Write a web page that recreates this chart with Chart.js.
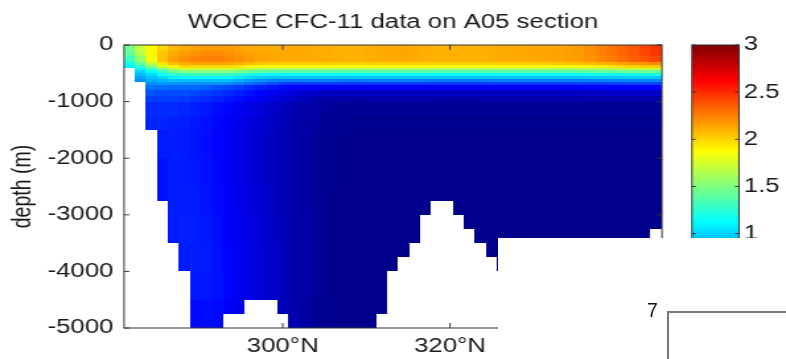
<!DOCTYPE html>
<html>
<head>
<meta charset="utf-8">
<script src="https://cdn.jsdelivr.net/npm/chart.js@4.4.1/dist/chart.umd.min.js"></script>
<style>
  html, body { margin: 0; padding: 0; background: #fff; overflow: hidden; width: 786px; height: 359px; }
  #wrap { position: absolute; left: 0; top: 0; width: 595px; height: 359px; transform: scaleX(1.32101); transform-origin: 0 0; }
  #mask { position: absolute; left: 498px; top: 238px; width: 288px; height: 121px; background: #fff; }
  #seven { position: absolute; left: 647px; top: 301px; font: 19.5px "Liberation Sans", Arial, sans-serif; line-height: 1; color: #111; }
  #box { position: absolute; left: 667px; top: 311px; width: 200px; height: 100px; border-left: 2px solid #777; border-top: 2px solid #777; }
</style>
</head>
<body>
<div id="wrap"><canvas id="c" width="595" height="359"></canvas></div>
<div id="mask"></div>
<div id="seven">7</div>
<div id="box"></div>
<script>
// ---------- data ----------
const chartTitle = 'WOCE CFC-11 data on A05 section';
const yAxisTitle = 'depth (m)';
const xTickValues = [300, 320];
const xTickSuffix = '°N';
const yTickValues = [0, -1000, -2000, -3000, -4000, -5000];
const cbTickValues = [0, 0.5, 1, 1.5, 2, 2.5, 3];

// section grid: column edges (x units) and depth layer edges (m)
const lonEdges = [281.03, 282.34, 283.65, 284.96, 286.27, 287.58, 288.89, 290.20, 291.51, 292.82,
  294.13, 295.44, 296.75, 298.06, 299.37, 300.68, 301.99, 303.30, 304.61, 305.92,
  307.23, 308.54, 309.85, 311.16, 312.47, 313.78, 315.09, 316.40, 317.71, 319.02,
  320.33, 321.64, 322.95, 324.26, 325.57, 326.88, 328.19, 329.50, 330.81, 332.12,
  333.43, 334.74, 336.05, 337.36, 338.67, 339.98, 341.29, 342.60, 343.91, 345.34];
const depthEdges = [0, 100, 200, 300, 350, 400, 450, 500, 550, 600, 650, 700, 800, 900, 1000,
  1250, 1500, 2000, 2500, 3000, 3500, 4000, 4500, 5000];

// sea-floor depth for each column (m)
const bottomDepth = [400, 650, 1500, 2750, 3500, 4000, 5000, 5000, 5000, 4750,
  4750, 4500, 4500, 4500, 4750, 5000, 5000, 5000, 5000, 5000,
  5000, 5000, 5000, 4750, 4000, 3750, 3500, 3000, 2750, 2750,
  3000, 3250, 3500, 3750, 4000, 4250, 4500, 4750, 5000, 5000,
  5000, 5000, 4750, 4500, 4250, 4000, 3750, 3500, 3250];

// CFC-11 (pmol/kg) per depth layer (rows) and column
const cfc11ByDepth = [
  [1.45,1.7,1.9,2.0,2.08,2.12,2.15,2.18,2.18,2.17, 2.15,2.13,2.12,2.12,2.12,2.12,2.12,2.11,2.11,2.1, 2.1,2.1,2.11,2.12,2.12,2.13,2.12,2.11,2.1,2.1, 2.1,2.1,2.1,2.11,2.12,2.12,2.12,2.13,2.13,2.14, 2.15,2.17,2.2,2.24,2.28,2.32,2.36,2.42,2.48],
  [1.4,1.65,1.9,2.05,2.12,2.17,2.2,2.22,2.22,2.2, 2.18,2.15,2.14,2.13,2.13,2.13,2.13,2.12,2.12,2.11, 2.11,2.11,2.12,2.13,2.13,2.14,2.13,2.12,2.11,2.11, 2.11,2.11,2.11,2.12,2.13,2.13,2.13,2.14,2.14,2.15, 2.16,2.18,2.21,2.25,2.29,2.33,2.37,2.42,2.47],
  [1.3,1.55,1.85,2.05,2.15,2.2,2.23,2.25,2.25,2.22, 2.2,2.17,2.14,2.13,2.12,2.12,2.12,2.12,2.11,2.11, 2.1,2.1,2.11,2.12,2.12,2.13,2.12,2.11,2.1,2.1, 2.1,2.1,2.1,2.11,2.12,2.12,2.12,2.13,2.13,2.14, 2.15,2.16,2.19,2.22,2.26,2.3,2.34,2.38,2.42],
  [1.2,1.4,1.7,1.95,2.08,2.12,2.15,2.15,2.15,2.15, 2.12,2.08,2.04,2.03,2.02,2.02,2.02,2.02,2.02,2.02, 2.01,2.01,2.02,2.02,2.02,2.03,2.02,2.02,2.01,2.01, 2.01,2.01,2.01,2.02,2.02,2.02,2.02,2.03,2.03,2.04, 2.05,2.06,2.08,2.1,2.12,2.15,2.18,2.2,2.22],
  [1.1,1.25,1.5,1.75,1.9,1.98,1.98,1.98,1.98,1.98, 1.95,1.9,1.88,1.88,1.88,1.88,1.88,1.88,1.88,1.88, 1.87,1.87,1.88,1.88,1.88,1.88,1.88,1.88,1.87,1.87, 1.87,1.87,1.87,1.88,1.88,1.88,1.88,1.88,1.88,1.88, 1.88,1.9,1.9,1.92,1.95,1.98,2.0,2.02,2.02],
  [null,1.12,1.3,1.5,1.65,1.75,1.75,1.75,1.75,1.75, 1.72,1.68,1.64,1.62,1.62,1.62,1.62,1.62,1.62,1.62, 1.61,1.61,1.62,1.62,1.62,1.62,1.62,1.62,1.61,1.61, 1.61,1.61,1.61,1.62,1.62,1.62,1.62,1.62,1.62,1.62, 1.62,1.62,1.64,1.65,1.66,1.68,1.7,1.7,1.7],
  [null,1.0,1.15,1.3,1.45,1.5,1.5,1.5,1.5,1.5, 1.48,1.42,1.4,1.38,1.38,1.38,1.38,1.38,1.38,1.38, 1.37,1.37,1.38,1.38,1.38,1.38,1.38,1.38,1.37,1.37, 1.37,1.37,1.37,1.38,1.38,1.38,1.38,1.38,1.38,1.38, 1.38,1.39,1.4,1.41,1.42,1.43,1.44,1.45,1.45],
  [null,0.92,1.02,1.15,1.25,1.3,1.3,1.3,1.3,1.3, 1.25,1.2,1.17,1.15,1.15,1.15,1.15,1.15,1.15,1.15, 1.14,1.14,1.15,1.15,1.15,1.15,1.15,1.15,1.14,1.14, 1.14,1.14,1.14,1.15,1.15,1.15,1.15,1.15,1.15,1.15, 1.15,1.16,1.16,1.17,1.18,1.18,1.19,1.2,1.2],
  [null,0.85,0.95,1.02,1.08,1.1,1.1,1.1,1.1,1.1, 1.05,1.0,0.97,0.95,0.95,0.95,0.95,0.95,0.95,0.95, 0.94,0.94,0.95,0.95,0.95,0.95,0.95,0.95,0.94,0.94, 0.94,0.94,0.94,0.95,0.95,0.95,0.95,0.95,0.95,0.95, 0.95,0.95,0.96,0.96,0.97,0.97,0.98,0.98,0.98],
  [null,0.8,0.88,0.92,0.95,0.95,0.95,0.95,0.95,0.95, 0.9,0.85,0.8,0.77,0.75,0.75,0.75,0.75,0.75,0.75, 0.74,0.74,0.75,0.75,0.75,0.75,0.75,0.75,0.74,0.74, 0.74,0.74,0.74,0.75,0.75,0.75,0.75,0.75,0.75,0.75, 0.75,0.75,0.76,0.76,0.77,0.77,0.78,0.78,0.78],
  [null,null,0.8,0.82,0.82,0.8,0.8,0.8,0.8,0.8, 0.75,0.7,0.65,0.6,0.56,0.55,0.55,0.55,0.55,0.55, 0.54,0.54,0.55,0.55,0.55,0.55,0.55,0.55,0.54,0.54, 0.54,0.54,0.54,0.55,0.55,0.55,0.55,0.55,0.55,0.55, 0.55,0.55,0.56,0.56,0.57,0.57,0.58,0.58,0.58],
  [null,null,0.7,0.7,0.68,0.68,0.68,0.66,0.62,0.58, 0.55,0.5,0.46,0.43,0.4,0.37,0.35,0.35,0.35,0.35, 0.34,0.34,0.35,0.35,0.35,0.35,0.35,0.35,0.34,0.34, 0.34,0.34,0.34,0.35,0.35,0.35,0.35,0.35,0.35,0.35, 0.36,0.36,0.37,0.38,0.38,0.38,0.38,0.38,0.38],
  [null,null,0.62,0.6,0.6,0.6,0.58,0.56,0.53,0.49, 0.46,0.42,0.38,0.34,0.3,0.26,0.23,0.21,0.2,0.2, 0.19,0.19,0.2,0.2,0.2,0.2,0.2,0.2,0.19,0.19, 0.19,0.19,0.19,0.2,0.2,0.2,0.2,0.2,0.2,0.2, 0.2,0.2,0.21,0.21,0.22,0.22,0.22,0.22,0.22],
  [null,null,0.56,0.55,0.55,0.54,0.52,0.5,0.47,0.44, 0.41,0.37,0.33,0.29,0.25,0.21,0.17,0.14,0.12,0.12, 0.11,0.11,0.12,0.12,0.12,0.12,0.12,0.12,0.11,0.11, 0.11,0.11,0.11,0.12,0.12,0.12,0.12,0.12,0.12,0.12, 0.12,0.12,0.13,0.13,0.13,0.13,0.13,0.13,0.13],
  [null,null,0.5,0.5,0.5,0.48,0.46,0.44,0.41,0.38, 0.34,0.3,0.26,0.22,0.18,0.15,0.12,0.1,0.08,0.07, 0.07,0.07,0.07,0.07,0.07,0.07,0.07,0.07,0.07,0.07, 0.07,0.07,0.07,0.07,0.07,0.07,0.07,0.07,0.07,0.07, 0.07,0.07,0.07,0.07,0.07,0.07,0.07,0.07,0.07],
  [null,null,0.48,0.48,0.47,0.46,0.44,0.42,0.39,0.36, 0.32,0.28,0.24,0.21,0.17,0.14,0.11,0.09,0.07,0.06, 0.05,0.05,0.05,0.05,0.05,0.05,0.05,0.05,0.05,0.05, 0.05,0.05,0.05,0.05,0.05,0.05,0.05,0.05,0.05,0.05, 0.05,0.05,0.05,0.05,0.05,0.05,0.05,0.05,0.05],
  [null,null,null,0.45,0.46,0.45,0.43,0.41,0.38,0.35, 0.31,0.27,0.23,0.2,0.16,0.13,0.1,0.08,0.06,0.05, 0.04,0.04,0.04,0.04,0.04,0.04,0.04,0.04,0.04,0.04, 0.04,0.04,0.04,0.04,0.04,0.04,0.04,0.04,0.04,0.04, 0.04,0.04,0.04,0.04,0.04,0.04,0.04,0.04,0.04],
  [null,null,null,0.42,0.45,0.45,0.44,0.42,0.39,0.35, 0.31,0.27,0.23,0.19,0.16,0.13,0.1,0.08,0.06,0.05, 0.04,0.04,0.04,0.04,0.04,0.04,0.04,0.04,0.04,0.04, 0.04,0.04,0.04,0.04,0.04,0.04,0.04,0.04,0.04,0.04, 0.04,0.04,0.04,0.04,0.04,0.04,0.04,0.04,0.04],
  [null,null,null,0.42,0.46,0.46,0.45,0.43,0.4,0.36, 0.32,0.28,0.24,0.2,0.16,0.13,0.1,0.08,0.06,0.04, 0.03,0.03,0.03,0.03,0.03,0.03,0.03,0.03,0.03,0.03, 0.03,0.03,0.03,0.03,0.03,0.03,0.03,0.03,0.03,0.03, 0.03,0.03,0.03,0.03,0.03,0.03,0.03,0.03,0.03],
  [null,null,null,null,0.45,0.47,0.46,0.44,0.41,0.37, 0.33,0.29,0.25,0.21,0.17,0.14,0.11,0.08,0.06,0.04, 0.03,0.03,0.03,0.03,0.03,0.03,0.03,null,null,null, null,0.03,0.03,0.03,0.03,0.03,0.03,0.03,0.03,0.03, 0.03,0.03,0.03,0.03,0.03,0.03,0.03,0.03,0.03],
  [null,null,null,null,null,0.45,0.46,0.45,0.42,0.38, 0.34,0.3,0.26,0.22,0.18,0.14,0.11,0.08,0.06,0.04, 0.03,0.03,0.03,0.03,0.03,0.03,null,null,null,null, null,null,null,0.03,0.03,0.03,0.03,0.03,0.03,0.03, 0.03,0.03,0.03,0.03,0.03,0.03,0.03,null,null],
  [null,null,null,null,null,null,0.44,0.44,0.42,0.38, 0.34,0.3,0.26,0.22,0.18,0.14,0.11,0.08,0.06,0.04, 0.03,0.03,0.03,0.03,null,null,null,null,null,null, null,null,null,null,null,0.03,0.03,0.03,0.03,0.03, 0.03,0.03,0.03,0.03,0.03,null,null,null,null],
  [null,null,null,null,null,null,0.4,0.41,0.4,0.36, 0.32,null,null,null,0.17,0.13,0.1,0.07,0.05,0.04, 0.03,0.03,0.03,0.03,null,null,null,null,null,null, null,null,null,null,null,null,null,0.03,0.03,0.03, 0.03,0.03,0.03,null,null,null,null,null,null]
];

// ---------- rendering ----------
const FONT = '"Liberation Sans", Arial, Helvetica, sans-serif';
const TEXT = '#1a1a1a';
const FRAME = '#333';
const cbMin = cbTickValues[0], cbMax = cbTickValues[cbTickValues.length - 1];

function clamp01(v) { return Math.max(0, Math.min(1, v)); }
function jet(v) {
  const t = clamp01((v - cbMin) / (cbMax - cbMin));
  const r = clamp01(1.5 - Math.abs(4 * t - 3));
  const g = clamp01(1.5 - Math.abs(4 * t - 2));
  const b = clamp01(1.5 - Math.abs(4 * t - 1));
  return 'rgb(' + Math.round(r * 255) + ',' + Math.round(g * 255) + ',' + Math.round(b * 255) + ')';
}

const sectionPlugin = {
  id: 'section',
  beforeDatasetsDraw(chart) {
    const { ctx, chartArea: a, scales } = chart;
    const xs = scales.x, ys = scales.y;
    ctx.save();
    ctx.beginPath();
    ctx.rect(a.left, a.top, a.right - a.left, a.bottom - a.top);
    ctx.clip();
    for (let r = 0; r < cfc11ByDepth.length; r++) {
      const row = cfc11ByDepth[r];
      for (let c = 0; c < row.length; c++) {
        const v = row[c];
        if (v === null) continue;
        const top = depthEdges[r];
        const bot = Math.min(depthEdges[r + 1], bottomDepth[c]);
        if (bot <= top) continue;
        const x0 = Math.round(xs.getPixelForValue(lonEdges[c]));
        const x1 = Math.round(xs.getPixelForValue(lonEdges[c + 1]));
        const y0 = Math.round(ys.getPixelForValue(-top));
        const y1 = Math.round(ys.getPixelForValue(-bot));
        ctx.fillStyle = jet(v);
        ctx.fillRect(x0, y0, x1 - x0, y1 - y0);
      }
    }
    ctx.restore();
  },
  afterDraw(chart) {
    const { ctx, chartArea: a, scales } = chart;
    const xs = scales.x, ys = scales.y, cb = scales.cb;
    ctx.save();
    ctx.strokeStyle = FRAME;
    ctx.lineWidth = 1;
    ctx.strokeRect(a.left, a.top, a.right - a.left, a.bottom - a.top);
    ctx.beginPath();
    yTickValues.forEach(v => {
      const py = ys.getPixelForValue(v);
      ctx.moveTo(a.left, py); ctx.lineTo(a.left + 4, py);
      ctx.moveTo(a.right, py); ctx.lineTo(a.right - 4, py);
    });
    xTickValues.forEach(v => {
      const px = xs.getPixelForValue(v);
      ctx.moveTo(px, a.bottom); ctx.lineTo(px, a.bottom - 5);
      ctx.moveTo(px, a.top); ctx.lineTo(px, a.top + 5);
    });
    ctx.stroke();
    // colour bar
    const bx0 = a.right + 22.7, bw = 35.6;
    const yTop = cb.getPixelForValue(cbMax), yBot = cb.getPixelForValue(cbMin);
    const grad = ctx.createLinearGradient(0, yBot, 0, yTop);
    [0, 0.125, 0.375, 0.625, 0.875, 1].forEach(t => grad.addColorStop(t, jet(cbMin + t * (cbMax - cbMin))));
    ctx.fillStyle = grad;
    ctx.fillRect(bx0, yTop, bw, yBot - yTop);
    ctx.strokeStyle = FRAME;
    ctx.strokeRect(bx0, yTop, bw, yBot - yTop);
    ctx.beginPath();
    cbTickValues.forEach(v => {
      const py = cb.getPixelForValue(v);
      ctx.moveTo(bx0, py); ctx.lineTo(bx0 + 3, py);
      ctx.moveTo(bx0 + bw, py); ctx.lineTo(bx0 + bw - 3, py);
    });
    ctx.stroke();
    ctx.restore();
  }
};

Chart.defaults.font.family = FONT;
Chart.defaults.font.size = 19.5;
Chart.defaults.color = TEXT;

new Chart(document.getElementById('c'), {
  type: 'scatter',
  data: { datasets: [{ data: [], pointRadius: 0 }] },
  options: {
    responsive: false,
    animation: false,
    events: [],
    layout: { padding: 0 },
    plugins: {
      legend: { display: false },
      tooltip: { enabled: false },
      title: {
        display: true,
        text: chartTitle,
        color: TEXT,
        font: { size: 19.5, weight: 'normal', family: FONT },
        padding: { top: 11, bottom: 10.6 }
      }
    },
    scales: {
      x: {
        type: 'linear',
        min: lonEdges[0],
        max: lonEdges[lonEdges.length - 1],
        grid: { display: false, drawTicks: false },
        border: { display: false },
        afterBuildTicks: s => { s.ticks = xTickValues.map(v => ({ value: v })); },
        ticks: { padding: 7, autoSkip: false, maxRotation: 0, callback: v => v + xTickSuffix },
        afterFit: s => { s.height = 31; }
      },
      y: {
        type: 'linear',
        min: yTickValues[yTickValues.length - 1],
        max: yTickValues[0],
        grid: { display: false, drawTicks: true, tickLength: 8 },
        border: { display: false },
        afterBuildTicks: s => { s.ticks = yTickValues.map(v => ({ value: v })); },
        ticks: { padding: 0, autoSkip: false, callback: v => String(v) },
        title: { display: true, text: yAxisTitle, font: { size: 19.5, family: FONT }, color: TEXT, padding: { top: 6, bottom: 0 } },
        afterFit: s => { s.width = 93.9; }
      },
      cb: {
        type: 'linear',
        position: 'right',
        min: cbMin,
        max: cbMax,
        grid: { display: false, drawTicks: true, tickLength: 62 },
        border: { display: false },
        afterBuildTicks: s => { s.ticks = cbTickValues.map(v => ({ value: v })); },
        ticks: { padding: 0, autoSkip: false, callback: v => String(v) },
        afterFit: s => { s.width = 93.9; }
      }
    }
  },
  plugins: [sectionPlugin]
});
</script>
</body>
</html>
